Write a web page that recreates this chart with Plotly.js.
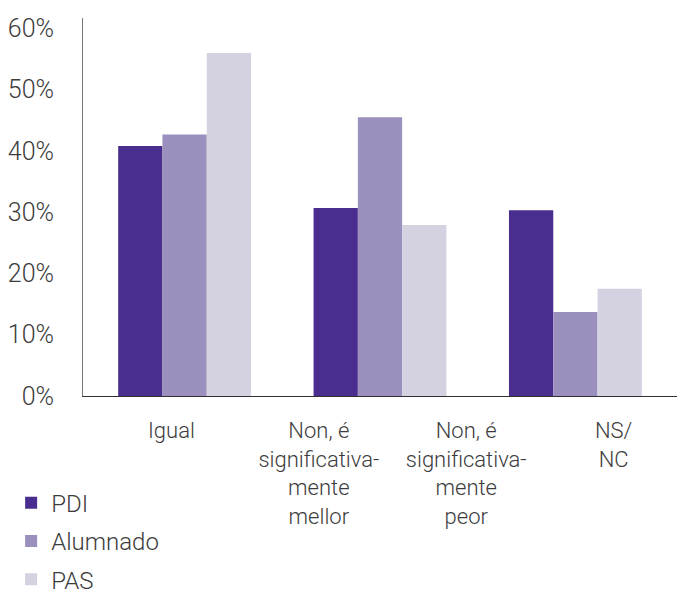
<!DOCTYPE html>
<html>
<head>
<meta charset="utf-8">
<script src="https://cdn.plot.ly/plotly-3.0.1.min.js"></script>
<style>
  html, body { margin: 0; padding: 0; background: #fff; }
  #chart { width: 677px; height: 594px; }
</style>
</head>
<body>
<div id="chart"></div>
<script>
// Bar groups (three clusters of bars)
const barGroups = ["Grupo 1", "Grupo 2", "Grupo 3"];
// Category labels printed under the axis
const categoryLabels = [
  "Igual",
  "Non, é<br>significativa-<br>mente<br>mellor",
  "Non, é<br>significativa-<br>mente<br>peor",
  "NS/<br>NC"
];
const seriesNames = ["PDI", "Alumnado", "PAS"];
const pdiValues = [0.408, 0.307, 0.303];
const alumnadoValues = [0.427, 0.455, 0.137];
const pasValues = [0.560, 0.279, 0.175];
const seriesColors = ["#4a2e8f", "#9a8fbd", "#d4d2e1"];
const yTickValues = [0, 0.1, 0.2, 0.3, 0.4, 0.5, 0.6];

const FONT = "Roboto, 'Open Sans', sans-serif";
const TEXT = "#3c3c3c";

const seriesValues = [pdiValues, alumnadoValues, pasValues];
const traces = seriesNames.map((name, i) => ({
  type: "bar",
  name: name,
  x: barGroups,
  y: seriesValues[i],
  marker: { color: seriesColors[i], line: { width: 0 } },
  legendgroup: name,
  hoverinfo: "skip"
}));

// carrier trace for the label axis (no visible marks)
traces.push({
  type: "scatter",
  mode: "markers",
  x: categoryLabels,
  y: categoryLabels.map(() => null),
  xaxis: "x2",
  showlegend: false,
  hoverinfo: "skip"
});

const layout = {
  width: 677,
  height: 594,
  margin: { l: 83, r: 0, t: 18, b: 198, autoexpand: false },
  paper_bgcolor: "#ffffff",
  plot_bgcolor: "#ffffff",
  font: { family: FONT, color: TEXT, weight: 300 },
  barmode: "group",
  bargap: 0.32,
  bargroupgap: 0,
  showlegend: true,
  legend: {
    xref: "paper", yref: "paper",
    x: -0.121, y: -0.224,
    xanchor: "left", yanchor: "top",
    font: { family: FONT, size: 24, color: TEXT, weight: 300 },
    traceorder: "grouped",
    tracegroupgap: 4,
    bgcolor: "rgba(0,0,0,0)",
    borderwidth: 0
  },
  xaxis: {
    type: "category",
    range: [-0.52, 2.52],
    showticklabels: false,
    ticks: "",
    showgrid: false,
    zeroline: false,
    showline: true,
    linecolor: "#333333",
    linewidth: 1,
    automargin: false,
    fixedrange: true
  },
  xaxis2: {
    type: "category",
    overlaying: "x",
    side: "bottom",
    anchor: "y",
    range: [-0.6, 3.43],
    showline: false,
    showgrid: false,
    zeroline: false,
    ticks: "",
    ticklabelstandoff: 19,
    tickfont: { family: FONT, size: 22, color: TEXT, weight: 300 },
    tickangle: 0,
    automargin: false,
    fixedrange: true
  },
  yaxis: {
    range: [0, 0.617],
    tickvals: yTickValues,
    tickformat: ".0%",
    showgrid: false,
    zeroline: false,
    showline: true,
    linecolor: "#777777",
    linewidth: 1,
    ticks: "",
    ticklabelstandoff: 23,
    tickfont: { family: FONT, size: 25, color: TEXT, weight: 300 },
    automargin: false,
    fixedrange: true
  }
};

Plotly.newPlot("chart", traces, layout, { displayModeBar: false, staticPlot: true });
</script>
</body>
</html>
